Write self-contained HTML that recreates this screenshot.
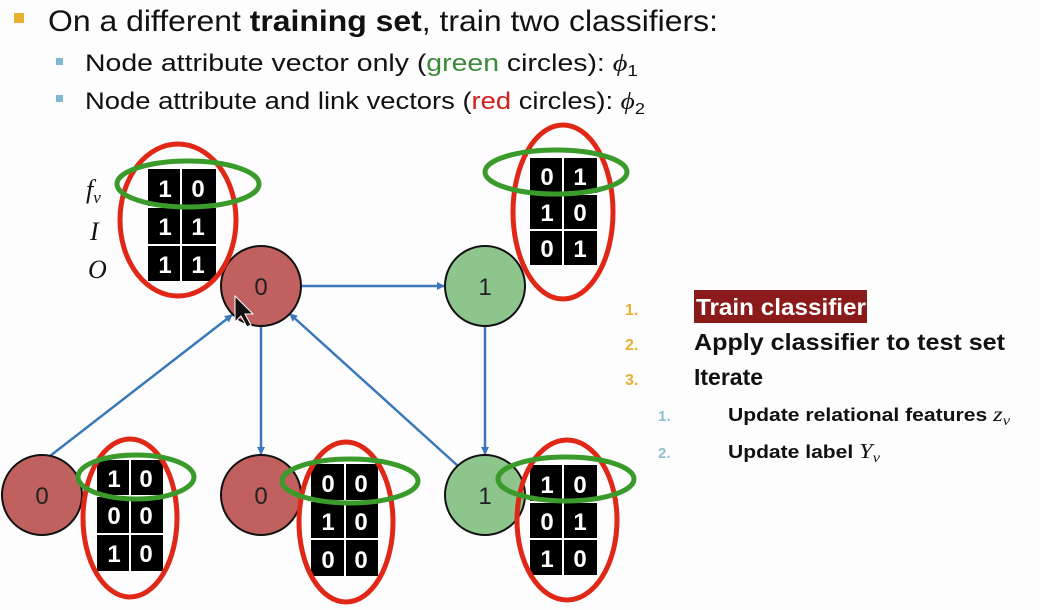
<!DOCTYPE html>
<html><head><style>
body{margin:0;background:#fdfdfd;}
svg{display:block}
.t{font-family:"Liberation Sans",sans-serif}
.m{font-family:"Liberation Sans",sans-serif;font-weight:bold;font-size:24px;fill:#fff;text-anchor:middle}
.n{font-family:"Liberation Sans",sans-serif;font-size:24px;fill:#222;text-anchor:middle}
.s{font-family:"Liberation Serif",serif;font-style:italic}
</style></head><body>
<svg width="1040" height="610" viewBox="0 0 1040 610" xmlns="http://www.w3.org/2000/svg">
<defs><marker id="a" markerWidth="8" markerHeight="8" refX="7" refY="4" orient="auto" markerUnits="userSpaceOnUse"><path d="M0,0 L8,4 L0,8z" fill="#3a78b8"/></marker></defs>
<rect x="14" y="13" width="10" height="10" fill="#e8b030"/>
<text class="t" x="48" y="31" font-size="30" fill="#111" textLength="670" lengthAdjust="spacingAndGlyphs">On a different <tspan font-weight="bold">training set</tspan>, train two classifiers:</text>
<rect x="56" y="58" width="7" height="7" fill="#7fb8cc"/>
<rect x="56" y="95" width="7" height="7" fill="#7fb8cc"/>
<text class="t" x="85" y="71" font-size="24" fill="#111" textLength="553" lengthAdjust="spacingAndGlyphs">Node attribute vector only (<tspan fill="#3a8a3a">green</tspan> circles): <tspan class="s">ϕ</tspan><tspan font-size="16" dy="5">1</tspan></text>
<text class="t" x="85" y="109" font-size="24" fill="#111" textLength="560" lengthAdjust="spacingAndGlyphs">Node attribute and link vectors (<tspan fill="#d02020">red</tspan> circles): <tspan class="s">ϕ</tspan><tspan font-size="16" dy="5">2</tspan></text>

<g stroke="#3a78b8" stroke-width="2.5" fill="none" marker-end="url(#a)">
<line x1="301" y1="286" x2="444" y2="286"/>
<line x1="485" y1="326" x2="485" y2="454"/>
<line x1="261" y1="326" x2="261" y2="454"/>
<line x1="50" y1="456" x2="232" y2="315"/>
<line x1="458" y1="466" x2="290" y2="314"/>
</g>

<g stroke="#111" stroke-width="2">
<circle cx="261" cy="286" r="40" fill="#c0605f"/>
<circle cx="485" cy="286" r="40" fill="#8dc58d"/>
<circle cx="42" cy="495" r="40" fill="#c0605f"/>
<circle cx="261" cy="495" r="40" fill="#c0605f"/>
<circle cx="485" cy="495" r="40" fill="#8dc58d"/>
</g>
<text class="n" x="261" y="295">0</text><text class="n" x="485" y="295">1</text>
<text class="n" x="42" y="504">0</text><text class="n" x="261" y="504">0</text><text class="n" x="485" y="504">1</text>
<path d="M235,296 L235,322 L241,316 L247,327 L251,325 L245,314 L253,314z" fill="#111" stroke="#fff" stroke-width="1"/>

<g>
<rect x="148" y="169" width="68" height="112" fill="#000"/>
<rect x="530" y="158" width="67" height="107" fill="#000"/>
<rect x="97" y="460" width="66" height="111" fill="#000"/>
<rect x="311" y="464" width="67" height="112" fill="#000"/>
<rect x="530" y="465" width="67" height="110" fill="#000"/>
</g>
<g stroke="#fff" stroke-width="2">
<line x1="181" y1="169" x2="181" y2="281"/><line x1="148" y1="207" x2="216" y2="207"/><line x1="148" y1="245" x2="216" y2="245"/>
<line x1="563" y1="158" x2="563" y2="265"/><line x1="530" y1="194" x2="597" y2="194"/><line x1="530" y1="230" x2="597" y2="230"/>
<line x1="130" y1="460" x2="130" y2="571"/><line x1="97" y1="496" x2="163" y2="496"/><line x1="97" y1="534" x2="163" y2="534"/>
<line x1="345" y1="464" x2="345" y2="576"/><line x1="311" y1="501" x2="378" y2="501"/><line x1="311" y1="539" x2="378" y2="539"/>
<line x1="563" y1="465" x2="563" y2="575"/><line x1="530" y1="502" x2="597" y2="502"/><line x1="530" y1="539" x2="597" y2="539"/>
</g>
<text class="m"><tspan x="165" y="197">1</tspan><tspan x="198" y="197">0</tspan><tspan x="165" y="235">1</tspan><tspan x="198" y="235">1</tspan><tspan x="165" y="273">1</tspan><tspan x="198" y="273">1</tspan></text>
<text class="m"><tspan x="547" y="185">0</tspan><tspan x="580" y="185">1</tspan><tspan x="547" y="221">1</tspan><tspan x="580" y="221">0</tspan><tspan x="547" y="257">0</tspan><tspan x="580" y="257">1</tspan></text>
<text class="m"><tspan x="114" y="487">1</tspan><tspan x="146" y="487">0</tspan><tspan x="114" y="524">0</tspan><tspan x="146" y="524">0</tspan><tspan x="114" y="562">1</tspan><tspan x="146" y="562">0</tspan></text>
<text class="m"><tspan x="328" y="492">0</tspan><tspan x="361" y="492">0</tspan><tspan x="328" y="530">1</tspan><tspan x="361" y="530">0</tspan><tspan x="328" y="568">0</tspan><tspan x="361" y="568">0</tspan></text>
<text class="m"><tspan x="547" y="493">1</tspan><tspan x="580" y="493">0</tspan><tspan x="547" y="530">0</tspan><tspan x="580" y="530">1</tspan><tspan x="547" y="567">1</tspan><tspan x="580" y="567">0</tspan></text>

<g fill="none" stroke-width="5">
<ellipse cx="178" cy="220" rx="58" ry="76" stroke="#e02818"/>
<ellipse cx="188" cy="184" rx="71" ry="23" stroke="#3a9a2a"/>
<ellipse cx="563" cy="212" rx="50" ry="87" stroke="#e02818"/>
<ellipse cx="556" cy="172" rx="71" ry="22" stroke="#3a9a2a"/>
<ellipse cx="130" cy="518" rx="47" ry="79" stroke="#e02818"/>
<ellipse cx="136" cy="477" rx="58" ry="22" stroke="#3a9a2a"/>
<ellipse cx="346" cy="522" rx="47" ry="80" stroke="#e02818"/>
<ellipse cx="350" cy="481" rx="68" ry="22" stroke="#3a9a2a"/>
<ellipse cx="567" cy="520" rx="50" ry="80" stroke="#e02818"/>
<ellipse cx="566" cy="479" rx="68" ry="22" stroke="#3a9a2a"/>
</g>

<text class="s" font-size="26" fill="#111" x="86" y="198">f<tspan font-size="17" dy="5">v</tspan></text>
<text class="s" font-size="26" fill="#111" x="90" y="240">I</text>
<text class="s" font-size="26" fill="#111" x="88" y="278">O</text>

<g class="t" font-weight="bold">
<text x="625" y="315" font-size="16" fill="#e8b030">1.</text>
<text x="625" y="350" font-size="16" fill="#e8b030">2.</text>
<text x="625" y="385" font-size="16" fill="#e8b030">3.</text>
<rect x="694" y="290" width="173" height="33" fill="#8b1a1a"/>
<text x="696" y="315" font-size="23" fill="#fff" textLength="170" lengthAdjust="spacingAndGlyphs">Train classifier</text>
<text x="694" y="350" font-size="23" fill="#111" textLength="311" lengthAdjust="spacingAndGlyphs">Apply classifier to test set</text>
<text x="694" y="385" font-size="23" fill="#111">Iterate</text>
<text x="658" y="421" font-size="15" fill="#90c0d0">1.</text>
<text x="658" y="458" font-size="15" fill="#90c0d0">2.</text>
<text x="728" y="421" font-size="18" fill="#111" textLength="282" lengthAdjust="spacingAndGlyphs">Update relational features <tspan class="s" font-weight="normal" font-size="21">z</tspan><tspan class="s" font-weight="normal" font-size="14" dy="4">v</tspan></text>
<text x="728" y="458" font-size="18" fill="#111" textLength="152" lengthAdjust="spacingAndGlyphs">Update label <tspan class="s" font-weight="normal" font-size="21">Y</tspan><tspan class="s" font-weight="normal" font-size="14" dy="4">v</tspan></text>
</g>
</svg>
</body></html>
